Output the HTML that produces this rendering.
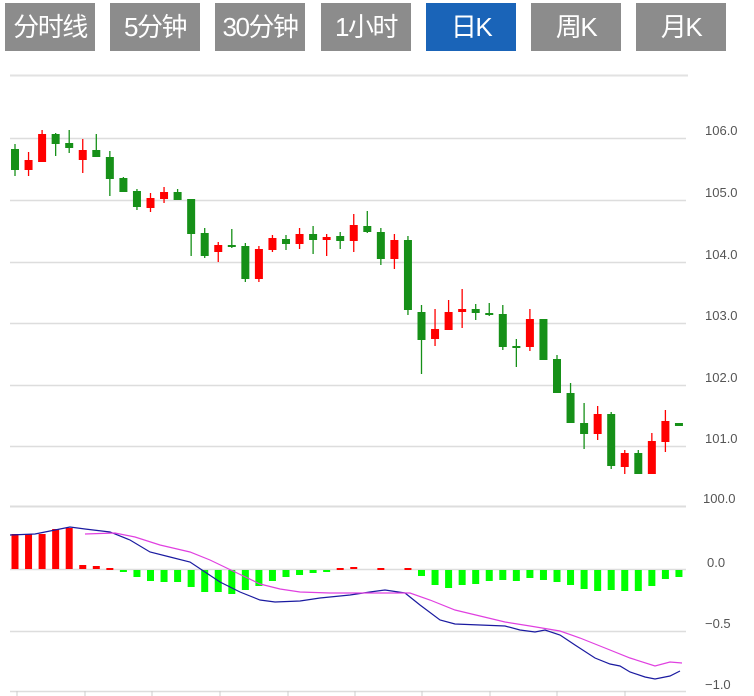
<!DOCTYPE html>
<html><head><meta charset="utf-8"><style>
body{margin:0;background:#fff;width:754px;height:696px;overflow:hidden;font-family:"Liberation Sans","Noto Sans CJK SC",sans-serif}
.b{position:absolute;top:3px;height:48px;width:90px;background:#8c8c8c;color:#fff;font-size:26px;line-height:48px;text-align:center;font-family:"Liberation Sans","Noto Sans CJK SC",sans-serif;letter-spacing:-1.5px}
.b.on{background:#1a64b8}
svg{position:absolute;left:0;top:0}
</style></head><body>
<div class="b" style="left:5px">分时线</div>
<div class="b" style="left:110px">5分钟</div>
<div class="b" style="left:215px">30分钟</div>
<div class="b" style="left:321px">1小时</div>
<div class="b on" style="left:426px">日K</div>
<div class="b" style="left:531px">周K</div>
<div class="b" style="left:636px">月K</div>
<svg id="s" width="754" height="696" xmlns="http://www.w3.org/2000/svg"></svg>
<script>
var s=document.getElementById('s'),h='';
function L(x1,y1,x2,y2,c,w){h+='<line x1="'+x1+'" y1="'+y1+'" x2="'+x2+'" y2="'+y2+'" stroke="'+c+'" stroke-width="'+(w||1)+'"/>';}
function R(x,y,w,hh,c){h+='<rect x="'+x+'" y="'+y+'" width="'+w+'" height="'+Math.max(hh,2)+'" fill="'+c+'"/>';}
function T(x,y,t){h+='<text x="'+x+'" y="'+y+'" font-size="13" fill="#555" font-family="Liberation Sans,DejaVu Sans,sans-serif">'+t+'</text>';}
L(10,75.5,688,75.5,'#e2e2e2',2);
var gy=[138,200,262,323,385,446];var lb=['106.0','105.0','104.0','103.0','102.0','101.0'];
for(var i=0;i<6;i++){L(10,gy[i]+.5,686,gy[i]+.5,'#ddd',1.5);T(705,gy[i]-3,lb[i]);}
L(10,506.5,686,506.5,'#ddd',2);T(703,503,'100.0');
L(10,569.5,686,569.5,'#ddd',1.5);T(707,567,'0.0');
L(10,631.5,686,631.5,'#ddd',1.5);T(705,628,'−0.5');
L(10,691.5,686,691.5,'#ddd',1.5);T(705,689,'−1.0');
[17,85,152,220,288,355,422,490,557,625].forEach(function(x){L(x,691,x,696,'#ccc',1);});
var c=[['g',149,170,144,176],['r',160,170,152,176],['r',134,162,130,162],['g',134,144,133,156],['g',143,148,130,153],['r',150,160,139,173],['g',150,157,134,157],['g',157,179,151,196],['g',178,192,177,192],['g',191,207,189,210],['r',198,208,193,212],['r',192,199,187,203],['g',192,200,189,200],['g',199,234,199,256],['g',233,256,228,258],['r',245,252,242,262],['g',245,247,229,248],['g',246,279,243,282],['r',249,279,246,282],['r',238,250,235,252],['g',239,244,235,250],['r',234,244,228,249],['g',234,240,226,254],['r',237,240,234,256],['g',236,241,232,249],['r',225,241,214,252],['g',226,232,211,233],['g',232,259,228,265],['r',240,259,234,269],['g',240,310,236,315],['g',312,340,305,374],['r',329,339,309,346],['r',312,330,300,330],['r',309,312,289,328],['g',309,313,304,320],['g',313,315,303,316],['g',314,347,305,350],['g',346,347,339,367],['r',319,347,309,351],['g',319,360,319,360],['g',359,393,355,393],['g',393,423,383,423],['g',423,434,403,449],['r',414,434,406,440],['g',414,466,412,469],['r',453,467,450,474],['g',453,474,450,474],['r',441,474,433,474],['r',421,442,410,452],['g',423,426,423,426]];
var m=[534,534,534,529,528,565,566,568,572,577,581,582,582,587,592,592,594,590,586,581,577,575,573,572,568,567,570,568,570,568,576,585,588,585,584,581,580,581,578,580,582,585,589,591,590,591,591,586,579,577];
c.forEach(function(d,i){var x=15+13.55*i;var col=d[0]=='r'?'#f00':'#169018';
L(x,d[3],x,d[4],col,1.3);R(x-4,d[1],8,d[2]-d[1],col);
var v=m[i];if(v<569)R(x-3.5,v,7,569-v,'#f00');else if(v>570)R(x-3.5,570,7,v-570,'#0f0');});
function P(pts,col){h+='<polyline fill="none" stroke="'+col+'" stroke-width="1.2" points="'+pts+'"/>';}
P('10,535 35,534 45,532 70,527 85,529 110,532 130,540 150,552 170,557 190,562 205,572 220,582 240,592 260,600 275,602 300,601 320,598 350,595 370,592 385,590 405,593 420,605 440,620 455,624 480,625 505,626 520,630 535,632 545,630 560,635 575,645 595,658 610,664 620,666 630,672 645,677 655,679 670,676 680,671','#1a1aa0');
P('85,534 115,533 135,537 160,545 190,552 210,560 235,572 260,584 280,589 300,592 330,593 360,593 385,593 410,593 430,600 455,610 480,616 505,622 530,626 560,631 580,638 605,648 630,658 655,666 670,662 682,663','#e040e0');
s.innerHTML=h;
</script>
</body></html>
